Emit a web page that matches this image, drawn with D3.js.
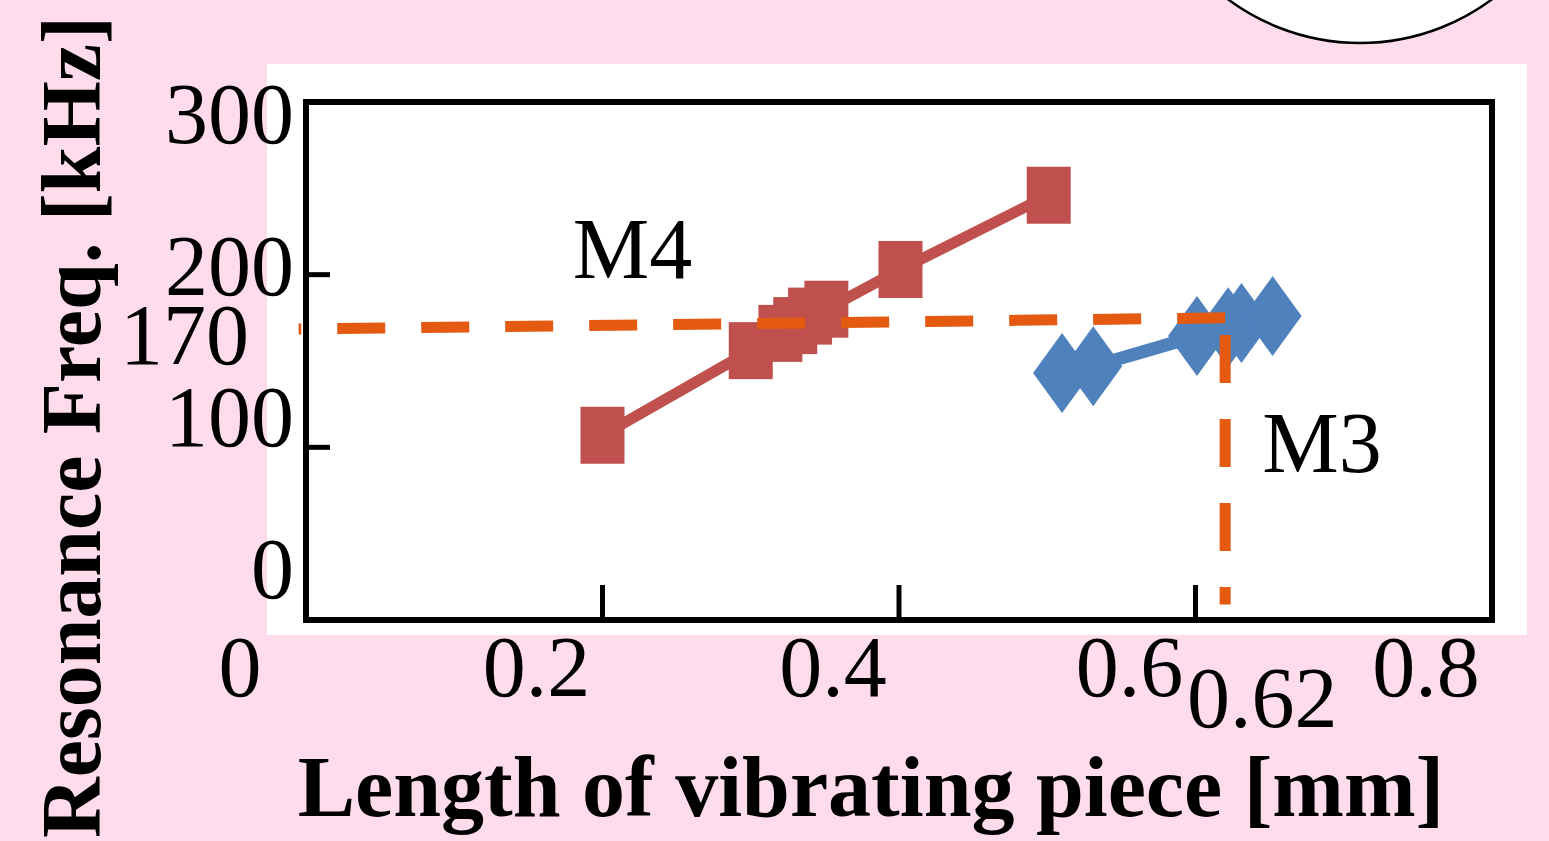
<!DOCTYPE html>
<html>
<head>
<meta charset="utf-8">
<script src="https://d3js.org/d3.v7.min.js"></script>
<style>
  html, body { margin: 0; padding: 0; background: #fedcec; }
  svg { display: block; }
  text { font-family: 'Liberation Serif', 'Times New Roman', serif; fill: #000; }
</style>
</head>
<body>
<div id="my_dataviz"></div>
<script>
// M4 series (red squares)
var m4Length = [0.2, 0.3, 0.32, 0.33, 0.34, 0.351, 0.401, 0.501];
var m4Freq = [107, 156, 166, 170.5, 176, 180, 203, 246];

// M3 series (blue diamonds)
var m3Length = [0.51, 0.531, 0.601, 0.622, 0.631, 0.652];
var m3Freq = [143, 147, 164.5, 169.5, 172, 176];

// tick labels
var xTicks = [0, 0.2, 0.4, 0.6, 0.8];
var yTicks = [0, 100, 200, 300];

// dashed reference lines (170 kHz -> 0.62 mm)
var refLength = 0.62;
var refFreq = 170;
var refHorizFreq = [168.5, 175];   // left end, corner (line is a bit tilted)
var refVertFreq = [165, 9];        // top, bottom

// series names written on the plot
var seriesNames = ['M4', 'M3'];
var nameLength = [0.18, 0.645];
var nameFreq = [198, 85.5];

var width = 1549,
    height = 841;

var svg = d3.select('#my_dataviz')
    .append('svg')
    .attr('width', width)
    .attr('height', height);

// pink background
svg.append('rect')
    .attr('width', width)
    .attr('height', height)
    .attr('fill', '#fedcec');

// white panel behind the plot
svg.append('rect')
    .attr('x', 267)
    .attr('y', 64)
    .attr('width', 1527 - 267)
    .attr('height', 635 - 64)
    .attr('fill', '#ffffff');

// circle peeking in at the top right
svg.append('circle')
    .attr('cx', 1360)
    .attr('cy', -178)
    .attr('r', 221)
    .attr('fill', '#ffffff')
    .attr('stroke', '#000')
    .attr('stroke-width', 2.5);

var x = d3.scaleLinear().domain([0, 0.8]).range([306, 1492]);
var y = d3.scaleLinear().domain([0, 300]).range([620, 102]);
// tick labels in the original sit on a slightly squeezed scale
var yLab = d3.scaleLinear().domain([0, 300]).range([598, 143]);

var m4 = m4Length.map(function (d, i) { return { x: d, y: m4Freq[i] }; });
var m3 = m3Length.map(function (d, i) { return { x: d, y: m3Freq[i] }; });

var line = d3.line()
    .x(function (d) { return x(d.x); })
    .y(function (d) { return y(d.y); });

// M4 line + squares
svg.append('path')
    .datum(m4)
    .attr('d', line)
    .attr('fill', 'none')
    .attr('stroke', '#c0504d')
    .attr('stroke-width', 11);

svg.selectAll('rect.m4')
    .data(m4)
    .enter()
    .append('rect')
    .attr('class', 'm4')
    .attr('x', function (d) { return x(d.x) - 22; })
    .attr('y', function (d) { return y(d.y) - 28.5; })
    .attr('width', 44)
    .attr('height', 57)
    .attr('fill', '#c0504d');

// M3 line + diamonds
svg.append('path')
    .datum(m3)
    .attr('d', line)
    .attr('fill', 'none')
    .attr('stroke', '#4f81bd')
    .attr('stroke-width', 13);

svg.selectAll('path.m3')
    .data(m3)
    .enter()
    .append('path')
    .attr('class', 'm3')
    .attr('d', function (d) {
        var cx = x(d.x), cy = y(d.y);
        return 'M' + (cx - 29) + ',' + cy + 'L' + cx + ',' + (cy - 40) +
            'L' + (cx + 29) + ',' + cy + 'L' + cx + ',' + (cy + 40) + 'Z';
    })
    .attr('fill', '#4f81bd');

// dashed orange reference lines
var refH = [{ x: refLength, y: refHorizFreq[1] }, { x: -0.005, y: refHorizFreq[0] }];
var refV = [{ x: refLength, y: refVertFreq[0] }, { x: refLength, y: refVertFreq[1] }];

[refH, refV].forEach(function (pts) {
    svg.append('path')
        .datum(pts)
        .attr('d', line)
        .attr('fill', 'none')
        .attr('stroke', '#e35a10')
        .attr('stroke-width', 11)
        .attr('stroke-dasharray', '48,36');
});

// plot frame
svg.append('rect')
    .attr('x', x(0))
    .attr('y', y(300))
    .attr('width', x(0.8) - x(0))
    .attr('height', y(0) - y(300))
    .attr('fill', 'none')
    .attr('stroke', '#000')
    .attr('stroke-width', 6);

// inner ticks
svg.selectAll('line.xtick')
    .data(xTicks.slice(1, -1))
    .enter()
    .append('line')
    .attr('x1', function (d) { return x(d); })
    .attr('x2', function (d) { return x(d); })
    .attr('y1', y(0))
    .attr('y2', y(0) - 35)
    .attr('stroke', '#000')
    .attr('stroke-width', 5);

svg.selectAll('line.ytick')
    .data(yTicks.slice(1, -1))
    .enter()
    .append('line')
    .attr('x1', x(0))
    .attr('x2', x(0) + 24)
    .attr('y1', function (d) { return y(d); })
    .attr('y2', function (d) { return y(d); })
    .attr('stroke', '#000')
    .attr('stroke-width', 5);

// tick labels
svg.selectAll('text.xlab')
    .data(xTicks)
    .enter()
    .append('text')
    .attr('x', function (d) { return x(d) - 66; })
    .attr('y', 696)
    .attr('text-anchor', 'middle')
    .attr('font-size', '86px')
    .text(function (d) { return d === 0 ? '0' : d3.format('.1f')(d); });

svg.selectAll('text.ylab')
    .data(yTicks)
    .enter()
    .append('text')
    .attr('x', 294)
    .attr('y', function (d) { return yLab(d); })
    .attr('text-anchor', 'end')
    .attr('font-size', '86px')
    .text(function (d) { return d; });

// reference values
svg.append('text')
    .attr('x', 249)
    .attr('y', y(refFreq) + 38)
    .attr('text-anchor', 'end')
    .attr('font-size', '86px')
    .text(refFreq);

svg.append('text')
    .attr('x', x(refLength) + 37)
    .attr('y', 727)
    .attr('text-anchor', 'middle')
    .attr('font-size', '86px')
    .text(refLength);

// series names
svg.selectAll('text.name')
    .data(seriesNames)
    .enter()
    .append('text')
    .attr('x', function (d, i) { return x(nameLength[i]); })
    .attr('y', function (d, i) { return y(nameFreq[i]); })
    .attr('font-size', '86px')
    .text(function (d) { return d; });

// axis titles
svg.append('text')
    .attr('x', 871)
    .attr('y', 816)
    .attr('text-anchor', 'middle')
    .attr('font-size', '86px')
    .attr('font-weight', 'bold')
    .text('Length of vibrating piece [mm]');

svg.append('text')
    .attr('transform', 'translate(100,427) rotate(-90)')
    .attr('text-anchor', 'middle')
    .attr('font-size', '84px')
    .attr('font-weight', 'bold')
    .text('Resonance Freq. [kHz]');
</script>
</body>
</html>
